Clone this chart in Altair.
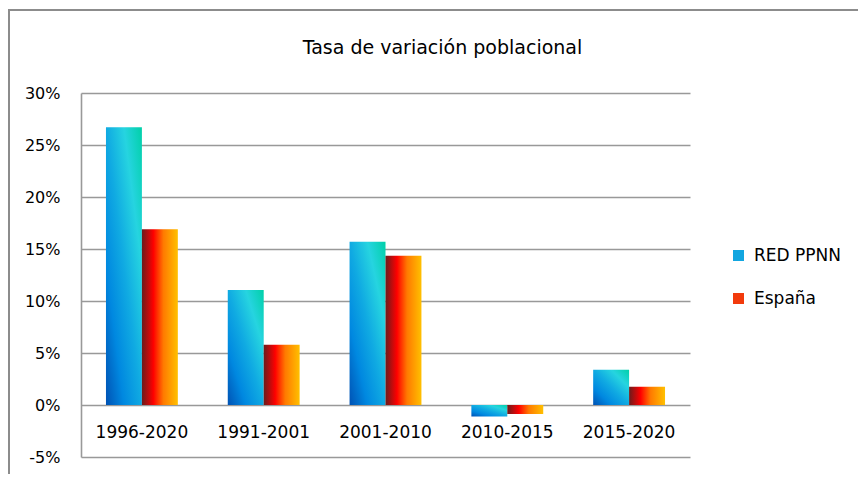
import altair as alt
import pandas as pd

periods = ["1996-2020", "1991-2001", "2001-2010", "2010-2015", "2015-2020"]
series = ["RED PPNN", "España"]
red_ppnn = [0.267, 0.1105, 0.157, -0.011, 0.034]
espana = [0.169, 0.058, 0.1435, -0.0087, 0.0175]
y_ticks = [-0.05, 0.0, 0.05, 0.10, 0.15, 0.20, 0.25, 0.30]

rows = []
for p, r, e in zip(periods, red_ppnn, espana):
    rows.append({"periodo": p, "serie": series[0], "valor": r})
    rows.append({"periodo": p, "serie": series[1], "valor": e})
df = pd.DataFrame(rows)

FONT = "DejaVu Sans"
W, H = 609, 364

grad_blue = {
    "gradient": "linear", "x1": 0, "y1": 1, "x2": 1, "y2": 0,
    "stops": [
        {"offset": 0.0, "color": "#0052b4"},
        {"offset": 0.25, "color": "#0088e0"},
        {"offset": 0.5, "color": "#10aae2"},
        {"offset": 0.75, "color": "#26d4e0"},
        {"offset": 1.0, "color": "#00d0a8"},
    ],
}
grad_red = {
    "gradient": "linear", "x1": 0, "y1": 0, "x2": 1, "y2": 0,
    "stops": [
        {"offset": 0.0, "color": "#6a1c1c"},
        {"offset": 0.32, "color": "#ff0000"},
        {"offset": 0.6, "color": "#ff7a00"},
        {"offset": 1.0, "color": "#ffc000"},
    ],
}

x_enc = alt.X(
    "periodo:N", sort=periods, title=None,
    scale=alt.Scale(paddingInner=0.41, paddingOuter=0.205),
    axis=alt.Axis(orient="bottom", offset=-52, domain=False, ticks=False, grid=False,
                  labelAngle=0, labelFont=FONT, labelFontSize=17, labelColor="#000000",
                  labelPadding=19),
)
y_enc = alt.Y(
    "valor:Q", title=None,
    scale=alt.Scale(domain=[-0.05, 0.30], nice=False, zero=False),
    axis=alt.Axis(values=y_ticks, labelExpr="round(datum.value*100) + '%'",
                  grid=True, gridColor="#999999", gridWidth=1.6,
                  domain=True, domainColor="#999999", domainWidth=1.6,
                  ticks=False, labelPadding=21, labelFont=FONT, labelFontSize=16,
                  labelColor="#000000"),
)
xo_enc = alt.XOffset("serie:N", scale=alt.Scale(domain=series, paddingInner=0, paddingOuter=0))

base = alt.Chart(df)

bars_red = base.transform_filter(alt.datum.serie == series[0]).mark_bar(
    color=grad_blue, fill=grad_blue
).encode(x=x_enc, y=y_enc, xOffset=xo_enc)

bars_es = base.transform_filter(alt.datum.serie == series[1]).mark_bar(
    color=grad_red, fill=grad_red
).encode(x=x_enc, y=y_enc, xOffset=xo_enc)

legend_layer = base.mark_square(opacity=0, size=1).encode(
    x=x_enc, y=y_enc,
    color=alt.Color(
        "serie:N",
        scale=alt.Scale(domain=series, range=["#12a6e0", "#f23a0c"]),
        legend=alt.Legend(
            title=None, orient="none", legendX=649, legendY=154,
            symbolType="square", symbolSize=121, symbolOpacity=1, symbolStrokeWidth=0,
            labelFont=FONT, labelFontSize=17, labelColor="#000000", labelOffset=7,
            rowPadding=25, padding=0,
        ),
    ),
)

frame = alt.Chart(pd.DataFrame({"a": [0]})).mark_rect(
    fill=None, stroke="#8c8c8c", strokeWidth=2
).encode(x=alt.value(-72), y=alt.value(-83), x2=alt.value(W + 300), y2=alt.value(H + 200))

chart = alt.layer(frame, bars_red, bars_es, legend_layer).properties(
    width=W, height=H,
    title=alt.TitleParams(
        "Tasa de variación poblacional", font=FONT, fontSize=19, fontWeight="normal",
        color="#000000", anchor="middle", dx=57, offset=-64, baseline="alphabetic",
        frame="group",
    ),
    autosize=alt.AutoSizeParams(type="none"),
    padding={"left": 73, "top": 85, "right": 168, "bottom": 17},
).configure(background="white",
            view=alt.ViewConfig(stroke="transparent", strokeWidth=0))

chart.save("out.html", embed_options={"renderer": "svg", "actions": False})
